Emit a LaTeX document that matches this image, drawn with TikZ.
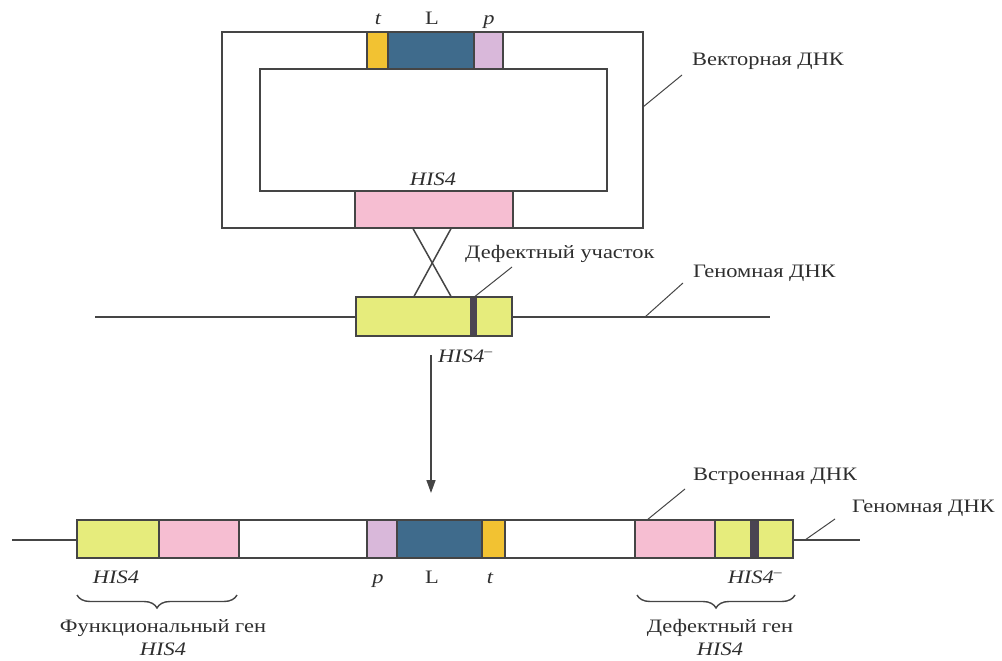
\documentclass[tikz,border=0pt]{standalone}
\usepackage{fontspec}
\setmainfont{Liberation Serif}[FakeStretch=1.18]
\usetikzlibrary{decorations.pathreplacing,arrows.meta}
\definecolor{linec}{HTML}{454545}
\definecolor{tyel}{HTML}{F2C232}
\definecolor{Lblue}{HTML}{3F6B8C}
\definecolor{plav}{HTML}{D9B8DA}
\definecolor{hpink}{HTML}{F6BED2}
\definecolor{ygreen}{HTML}{E6EC7C}
\definecolor{dbar}{HTML}{4B4552}
\tikzset{
  seg/.style={draw=linec, line width=1.5pt, inner sep=0pt, outer sep=0pt, anchor=north west},
  wire/.style={draw=linec, line width=1.5pt},
  lead/.style={draw=linec, line width=1pt},
  lbl/.style={inner sep=0pt, anchor=base west, text=black!82, font=\fontsize{19}{21}\selectfont},
  lblc/.style={inner sep=0pt, anchor=base, text=black!82, font=\fontsize{19}{21}\selectfont},
  brc/.style={draw=linec, line width=1.4pt, decorate, decoration={brace, mirror, amplitude=13pt}}
}
\begin{document}
\begin{tikzpicture}[x=1pt, y=-1pt]
\useasboundingbox (0,0) rectangle (1002,661);
% ---- vector DNA
\node[seg, minimum width=421pt, minimum height=196pt] (outer) at (222,32) {};
\node[seg, fill=white, minimum width=347pt, minimum height=122pt] (inner) at (260,69) {};
\node[seg, fill=tyel, minimum width=21pt, minimum height=37pt] (vt) at (367,32) {};
\node[seg, fill=Lblue, minimum width=86pt, minimum height=37pt] (vL) at (388,32) {};
\node[seg, fill=plav, minimum width=29pt, minimum height=37pt] (vp) at (474,32) {};
\node[seg, fill=hpink, minimum width=158pt, minimum height=37pt] (vh) at (355,191) {};
\node[lblc] (tlab) at (378,25) {\itshape t};
\node[lblc] (Llab) at (432,25) {L};
\node[lblc] (plab) at (489,25) {\itshape p};
\node[lblc] (vhlab) at (433,185) {\itshape HIS4};
\node[lbl] (veclab) at (692,66) {Векторная ДНК};
\coordinate (vecpt) at (643,107);
\draw[lead] (vecpt) -- (682,75);
% ---- genomic DNA
\coordinate (gl) at (95,317);
\coordinate (gr) at (770,317);
\draw[wire] (gl) -- (gr);
\node[seg, fill=ygreen, minimum width=156pt, minimum height=39pt] (gy) at (356,297) {};
\node[draw=none, fill=dbar, inner sep=0pt, outer sep=0pt, anchor=north west, minimum width=7pt, minimum height=38pt] (gbar) at (470,297.6) {};
\draw[wire] (gy.north west) rectangle (gy.south east);
% crossover
\coordinate (x1) at (413,228.6);
\coordinate (x2) at (451,228.6);
\coordinate (x3) at (451,296.4);
\coordinate (x4) at (414,296.4);
\draw[wire] (x1) -- (x3);
\draw[wire] (x2) -- (x4);
\node[lbl] (deflab) at (465,258) {Дефектный участок};
\draw[lead] (gbar.north) -- (512,267);
\node[lbl] (genlab) at (693,277) {Геномная ДНК};
\coordinate (genpt) at (645,317);
\draw[lead] (genpt) -- (683,283);
\node[lbl] (hmlab) at (438,362) {\itshape HIS4\textsuperscript{\upshape --}};
% arrow
\coordinate (a1) at (431,355);
\coordinate (a2) at (431,493);
\draw[wire, -{Triangle[length=13pt, width=9pt]}] (a1) -- (a2);
% ---- integrated
\coordinate (bl) at (12,540);
\coordinate (br) at (860,540);
\draw[wire] (bl) -- (77,540);
\draw[wire] (793,540) -- (br);
\node[seg, fill=ygreen, minimum width=82pt, minimum height=38pt] (b1) at (77,520) {};
\node[seg, fill=hpink, minimum width=80pt, minimum height=38pt] (b2) at (159,520) {};
\node[seg, fill=white, minimum width=128pt, minimum height=38pt] (b3) at (239,520) {};
\node[seg, fill=plav, minimum width=30pt, minimum height=38pt] (b4) at (367,520) {};
\node[seg, fill=Lblue, minimum width=85pt, minimum height=38pt] (b5) at (397,520) {};
\node[seg, fill=tyel, minimum width=23pt, minimum height=38pt] (b6) at (482,520) {};
\node[seg, fill=white, minimum width=130pt, minimum height=38pt] (b7) at (505,520) {};
\node[seg, fill=hpink, minimum width=80pt, minimum height=38pt] (b8) at (635,520) {};
\node[seg, fill=ygreen, minimum width=78pt, minimum height=38pt] (b9) at (715,520) {};
\node[draw=none, fill=dbar, inner sep=0pt, outer sep=0pt, anchor=north west, minimum width=9pt, minimum height=37pt] (bbar) at (750,520.6) {};
\draw[wire] (b9.north west) rectangle (b9.south east);
\node[lblc] (bh1) at (116,583) {\itshape HIS4};
\node[lblc] (bp) at (378,583) {\itshape p};
\node[lblc] (bL) at (432,583) {L};
\node[lblc] (bt) at (490,583) {\itshape t};
\node[lblc] (bh2) at (755,583) {\itshape HIS4\textsuperscript{\upshape --}};
\draw[brc] (77,595) -- (237,595);
\draw[brc] (637,595) -- (795,595);
\node[lblc] (funlab) at (163,632) {Функциональный ген};
\node[lblc] (funh) at (163,655) {\itshape HIS4};
\node[lblc] (deflab2) at (720,632) {Дефектный ген};
\node[lblc] (defh) at (720,655) {\itshape HIS4};
\node[lbl] (inslab) at (693,480) {Встроенная ДНК};
\draw[lead] (b8.north west) ++(12,0) -- (685,489);
\node[lbl] (gen2lab) at (852,512) {Геномная ДНК};
\coordinate (gen2pt) at (805,540);
\draw[lead] (gen2pt) -- (835,519);
\end{tikzpicture}
\end{document}
